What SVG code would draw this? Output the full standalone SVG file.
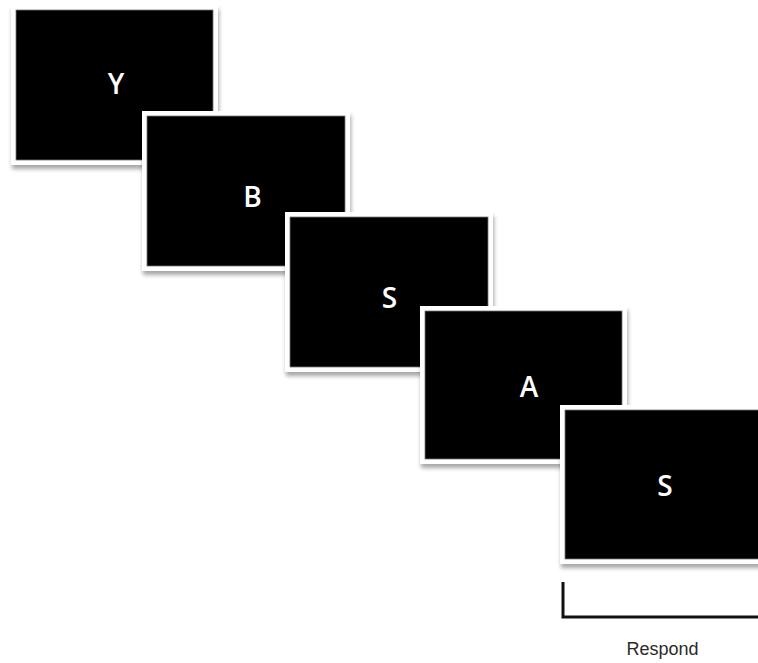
<svg xmlns="http://www.w3.org/2000/svg" width="758" height="663" viewBox="0 0 758 663">
<defs>
<filter id="sh" x="-10%" y="-10%" width="130%" height="130%">
<feGaussianBlur in="SourceAlpha" stdDeviation="2"/>
<feOffset dx="1" dy="4" result="b"/>
<feComponentTransfer in="b" result="s"><feFuncA type="linear" slope="0.35"/></feComponentTransfer>
<feMerge><feMergeNode in="s"/><feMergeNode in="SourceGraphic"/></feMerge>
</filter>
</defs>
<style>
.frame{fill:#fff;filter:url(#sh)}
.screen{fill:#000;stroke:#777;stroke-width:0.8}
.letter{font-family:"Open Sans","Liberation Sans",sans-serif;font-weight:600;font-size:28px;fill:#fff;text-anchor:middle}
.lbl{font-family:"Liberation Sans",Arial,sans-serif;font-size:18px;fill:#2a2a2a;text-anchor:middle}
</style>
<rect width="758" height="663" fill="#fff"/>
<g id="screen-Y">
<rect class="frame" x="11" y="5" width="207" height="160"/>
<rect class="screen" x="16" y="10" width="197" height="150"/>
<text class="letter" x="116" y="94">Y</text>
</g>
<g id="screen-B">
<rect class="frame" x="142" y="111" width="208" height="160"/>
<rect class="screen" x="147" y="116" width="198" height="150"/>
<text class="letter" x="252.5" y="207">B</text>
</g>
<g id="screen-S1">
<rect class="frame" x="285" y="212" width="208" height="160"/>
<rect class="screen" x="290" y="217" width="198" height="150"/>
<text class="letter" x="389.5" y="308">S</text>
</g>
<g id="screen-A">
<rect class="frame" x="420" y="306" width="207" height="158"/>
<rect class="screen" x="425" y="311" width="197" height="148"/>
<text class="letter" x="529" y="397">A</text>
</g>
<g id="screen-S2">
<rect class="frame" x="560" y="405" width="210" height="159"/>
<rect class="screen" x="565" y="410" width="210" height="149"/>
<text class="letter" x="665" y="496">S</text>
</g>
<g id="connectors">
<path d="M563,582 V617 H760" fill="none" stroke="#111" stroke-width="3"/>
</g>
<g id="label-respond">
<text class="lbl" x="662.5" y="655">Respond</text>
</g>
</svg>
